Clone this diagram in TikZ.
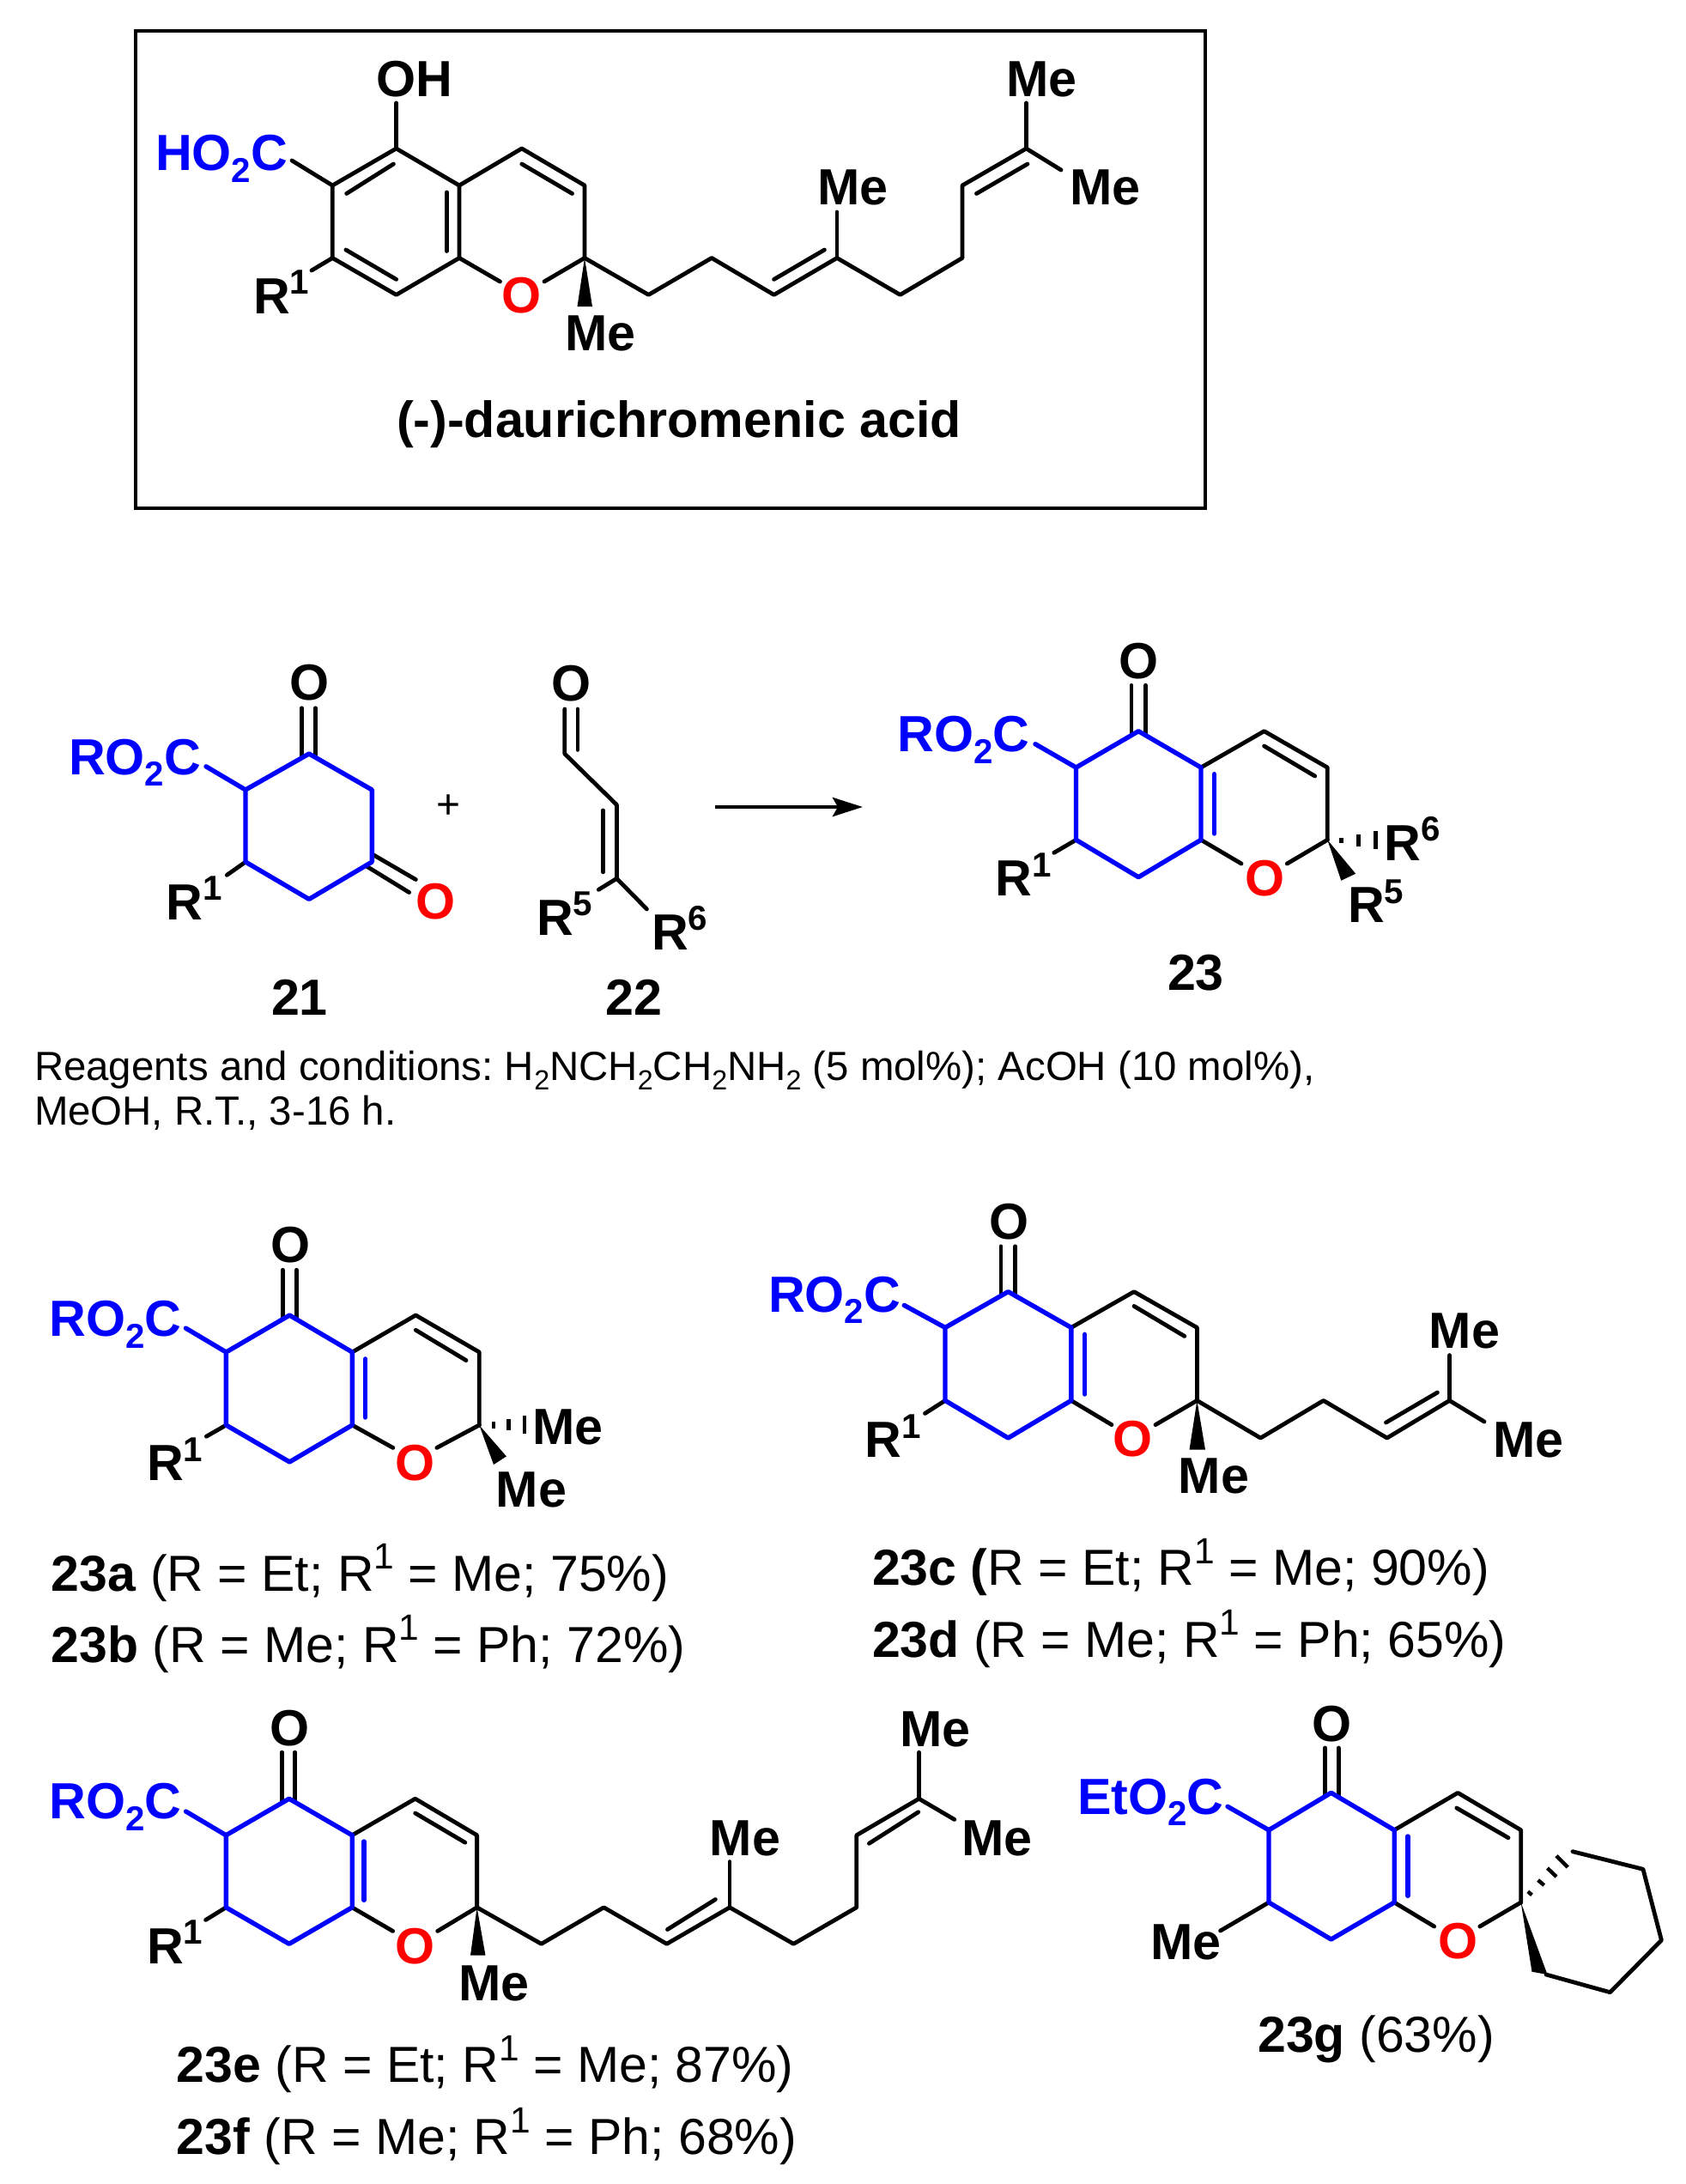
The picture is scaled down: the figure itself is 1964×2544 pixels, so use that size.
\documentclass[tikz,border=0pt]{standalone}
\usepackage{fontspec}
\usepackage{graphicx}
\setmainfont{Liberation Sans}
\usetikzlibrary{arrows.meta}
\definecolor{cblue}{RGB}{0,0,255}
\definecolor{cred}{RGB}{255,0,0}
\newcommand{\lsub}[1]{\raisebox{-.23em}{\scalebox{.68}{#1}}}
\newcommand{\lsup}[1]{\raisebox{.38em}{\scalebox{.68}{#1}}}
\newcommand{\csup}[1]{\raisebox{.43em}{\scalebox{.72}{#1}}}
\newcommand{\labfont}{\fontsize{29.6}{32}\selectfont\bfseries}
\newcommand{\capfont}{\fontsize{29.5}{32}\selectfont}
\newcommand{\smfont}{\fontsize{23.7}{26}\selectfont\frenchspacing}
\tikzset{
 blk/.style={line width=2.4pt,black,line cap=round,line join=round},
 blu/.style={line width=2.7pt,cblue,line cap=round,line join=round},
 lab/.style={inner sep=0pt,outer sep=0pt,anchor=base west,font=\labfont,xshift=-1pt,yshift=-0.7pt},
 capt/.style={inner sep=0pt,outer sep=0pt,anchor=base west,font=\capfont,yshift=-0.7pt},
 small/.style={inner sep=0pt,outer sep=0pt,anchor=base west,font=\smfont,yshift=-0.7pt},
 bluelab/.style={lab,text=cblue},
 redlab/.style={lab,text=cred},
 wedge/.style={fill=black,draw=none},
 hashb/.style={line width=2.2pt,black},
}
% shared bonds of the cyclohexenone-pyran core, from named atoms
\newcommand{\corebonds}[1]{
 \path (#1co) ++(0,3) coordinate (#1cy);
 \draw[blk] (#1oa) -- (#1oa |- #1cy);
 \draw[blk] (#1ob) -- (#1ob |- #1cy);
 \draw[blk] (#1cr) -- (#1rb);
 \draw[blk] (#1cf) -- (#1cd) -- (#1cc) -- (#1ct);
 \draw[blk] (#1jA) -- (#1jB);
 \draw[blk] (#1ce) -- (#1oA);
 \draw[blk] (#1ct) -- (#1oB);
 \draw[blu] (#1ca) -- (#1es);
 \draw[blu] (#1cf) -- (#1co) -- (#1ca) -- (#1cr) -- (#1ch) -- (#1ce) -- (#1cf);
 \draw[blu] (#1iA) -- (#1iB);
}
\begin{document}
\begin{tikzpicture}[x=0.5pt,y=-0.5pt]
\useasboundingbox (0,0) rectangle (1964,2544);
\fill[white] (0,0) rectangle (1964,2544);

%% ---------- (-)-daurichromenic acid ----------
\coordinate (fa) at (158,36);
\coordinate (fb) at (1404,592);
\draw[line width=1.8pt,black] (fa) rectangle (fb);
\coordinate (a1) at (461.6,173);
\coordinate (a2) at (387.3,216);
\coordinate (a3) at (387.3,300.5);
\coordinate (a4) at (461.6,343.4);
\coordinate (a5) at (535,300.5);
\coordinate (a6) at (535,216);
\coordinate (a7) at (607.8,173);
\coordinate (a8) at (681,216);
\coordinate (a9) at (681,300.5);
\coordinate (a10) at (755.5,343.4);
\coordinate (a11) at (829,300.5);
\coordinate (a12) at (901.6,343.4);
\coordinate (a13) at (975,300.5);
\coordinate (a14) at (1048.6,343.4);
\coordinate (a15) at (1121,300.5);
\coordinate (a16) at (1121,216);
\coordinate (a17) at (1195.5,173);
\coordinate (aoh) at (461.6,120);
\coordinate (aes) at (340,187);
\coordinate (arb) at (363,315);
\coordinate (aoA) at (582.5,328);
\coordinate (aoB) at (634,328);
\coordinate (ame1) at (975,247);
\coordinate (ame2) at (1195.5,120);
\coordinate (ame3) at (1236,198);
\coordinate (aw1) at (672.5,357);
\coordinate (aw2) at (690,357);
\draw[blk] (a1) -- (a2) -- (a3) -- (a4) -- (a5) -- (a6) -- (a1);
\draw[blk] (a6) -- (a7) -- (a8) -- (a9);
\draw[blk] (a5) -- (aoA);
\draw[blk] (a9) -- (aoB);
\draw[blk] (a9) -- (a10) -- (a11) -- (a12) -- (a13) -- (a14) -- (a15) -- (a16) -- (a17);
\draw[blk] (a1) -- (aoh);
\draw[blk] (a2) -- (aes);
\draw[blk] (a3) -- (arb);
\draw[blk] (a13) -- (ame1);
\draw[blk] (a17) -- (ame2);
\draw[blk] (a17) -- (ame3);
\coordinate (ai1) at (458.4,191); \coordinate (ai2) at (403.7,225.5);
\coordinate (ai3) at (520.4,224); \coordinate (ai4) at (520.4,292.5);
\coordinate (ai5) at (402.9,291); \coordinate (ai6) at (461.6,325.4);
\coordinate (ai7) at (607.8,191); \coordinate (ai8) at (666.5,225.5);
\coordinate (ai9) at (960.4,291); \coordinate (ai10) at (901.6,325.4);
\coordinate (ai11) at (1197,191); \coordinate (ai12) at (1137.5,225.5);
\draw[blk] (ai1) -- (ai2);
\draw[blk] (ai3) -- (ai4);
\draw[blk] (ai5) -- (ai6);
\draw[blk] (ai7) -- (ai8);
\draw[blk] (ai9) -- (ai10);
\draw[blk] (ai11) -- (ai12);
\fill[wedge] (a9) -- (aw1) -- (aw2) -- cycle;
\node[lab] (aOH) at (440.4,111) {OH};
\node[bluelab] (aHO) at (183,197) {HO\lsub{2}C};
\node[lab] (aR) at (297,363.7) {R\lsup{1}};
\node[redlab] (aO) at (586,363.4) {O};
\node[lab] (aMe1) at (660,407) {Me};
\node[lab] (aMe2) at (954,237) {Me};
\node[lab] (aMe3) at (1174,111) {Me};
\node[lab] (aMe4) at (1248,237) {Me};
\node[lab] (aname) at (464,508) {(-)-daurichromenic acid};

%% ---------- 21 ----------
\coordinate (b1) at (360,878);
\coordinate (b2) at (433.3,920);
\coordinate (b3) at (433.3,1004);
\coordinate (b4) at (360,1047.4);
\coordinate (b5) at (286,1004);
\coordinate (b6) at (286,920);
\coordinate (bes) at (240,892.8);
\coordinate (brb) at (264.3,1019.3);
\coordinate (boa) at (351.6,824.8); \coordinate (bob) at (367.6,824.8);
\coordinate (bla) at (351.6,882); \coordinate (blb) at (367.6,882);
\coordinate (bc1) at (433.3,994.8); \coordinate (bc2) at (484.3,1024.5);
\coordinate (bc3) at (426.3,1008.6); \coordinate (bc4) at (476.6,1039.5);
\draw[blk] (boa) -- (bla);
\draw[blk] (bob) -- (blb);
\draw[blk] (bc1) -- (bc2);
\draw[blk] (bc3) -- (bc4);
\draw[blk] (b5) -- (brb);
\draw[blu] (b6) -- (bes);
\draw[blu] (b1) -- (b2) -- (b3) -- (b4) -- (b5) -- (b6) -- cycle;
\node[lab] (bO1) at (339,814.5) {O};
\node[redlab] (bO2) at (486,1069) {O};
\node[bluelab] (bRO) at (82,900.7) {RO\lsub{2}C};
\node[lab] (bR) at (195.4,1070) {R\lsup{1}};
\node[lab] (b21) at (318,1180.6) {21};
\node[inner sep=0pt,font=\fontsize{24}{24}\selectfont] (plus) at (523,940) {+};

%% ---------- 22 ----------
\coordinate (c1) at (657.8,878);
\coordinate (c2) at (718.4,937.5);
\coordinate (c3) at (718.4,1023.3);
\coordinate (coa) at (657.8,826);
\coordinate (cob) at (673,826);
\coordinate (coc) at (673,873.4);
\coordinate (ci1) at (702.4,944);
\coordinate (ci2) at (702.4,1015.8);
\coordinate (cr5) at (697.3,1036.3);
\coordinate (cr6) at (753.4,1058.9);
\draw[blk] (coa) -- (c1) -- (c2) -- (c3);
\draw[blk] (cob) -- (coc);
\draw[blk] (ci1) -- (ci2);
\draw[blk] (c3) -- (cr5);
\draw[blk] (c3) -- (cr6);
\node[lab] (cO) at (644,814.6) {O};
\node[lab] (cR5) at (627,1087.7) {R\lsup{5}};
\node[lab] (cR6) at (761,1104.7) {R\lsup{6}};
\node[lab] (c22) at (707.5,1180.6) {22};

%% ---------- arrow ----------
\coordinate (arA) at (833,940);
\coordinate (arB) at (1005,940);
\draw[line width=2.4pt,black,-{Stealth[length=17.5pt,width=11pt,inset=3pt]}] (arA) -- (arB);

%% ---------- conditions ----------
\node[small] (cond1) at (40,1257) {Reagents and conditions: H\lsub{2}NCH\lsub{2}CH\lsub{2}NH\lsub{2} (5 mol\%); AcOH (10 mol\%),};
\node[small] (cond2) at (40,1309) {MeOH, R.T., 3-16 h.};

%% ---------- 23 ----------
\coordinate (Pco) at (1326.2,851.7);
\coordinate (Pca) at (1253.5,894);
\coordinate (Pcr) at (1253.5,978.3);
\coordinate (Pch) at (1326.2,1021.7);
\coordinate (Pce) at (1399,978.3);
\coordinate (Pcf) at (1399,894);
\coordinate (Pcd) at (1472.6,851.7);
\coordinate (Pcc) at (1546.3,894);
\coordinate (Pct) at (1546.3,978.3);
\coordinate (Poa) at (1318,798.3);
\coordinate (Pob) at (1334.5,798.3);
\coordinate (Pes) at (1206,866.7);
\coordinate (Prb) at (1227.8,993.3);
\coordinate (PiA) at (1414.5,901.7);
\coordinate (PiB) at (1414.5,971);
\coordinate (PjA) at (1472.6,869);
\coordinate (PjB) at (1531.7,904);
\coordinate (PoA) at (1446,1006);
\coordinate (PoB) at (1499.3,1006);
\corebonds{P}
\coordinate (Pw1) at (1562.3,1025.7);
\coordinate (Pw2) at (1579.2,1017.7);
\fill[wedge] (Pct) -- (Pw1) -- (Pw2) -- cycle;
\coordinate (Ph1) at (1562.3,975.7); \coordinate (Ph2) at (1562.3,981.7);
\coordinate (Ph3) at (1582.6,972.3); \coordinate (Ph4) at (1582.6,985.7);
\coordinate (Ph5) at (1602.5,968.3); \coordinate (Ph6) at (1602.5,989.3);
\draw[hashb] (Ph1) -- (Ph2);
\draw[hashb] (Ph3) -- (Ph4);
\draw[hashb] (Ph5) -- (Ph6);
\node[lab] (PO1) at (1305,789) {O};
\node[redlab] (PO2) at (1452,1042.3) {O};
\node[bluelab] (PRO) at (1047.5,874.3) {RO\lsub{2}C};
\node[lab] (PR1) at (1161.4,1042.3) {R\lsup{1}};
\node[lab] (PR6) at (1614.6,1000.7) {R\lsup{6}};
\node[lab] (PR5) at (1572,1073.3) {R\lsup{5}};
\node[lab] (P23) at (1362,1151.7) {23};

%% ---------- 23a/b ----------
\coordinate (Qco) at (337.3,1532);
\coordinate (Qca) at (263.4,1575);
\coordinate (Qcr) at (263.4,1660);
\coordinate (Qch) at (337.3,1702.9);
\coordinate (Qce) at (410.3,1660);
\coordinate (Qcf) at (410.3,1575);
\coordinate (Qcd) at (484.3,1532);
\coordinate (Qcc) at (558.3,1575);
\coordinate (Qct) at (558.3,1660);
\coordinate (Qoa) at (329.2,1479.3);
\coordinate (Qob) at (345.5,1479.3);
\coordinate (Qes) at (216.4,1547.1);
\coordinate (Qrb) at (240.4,1673.2);
\coordinate (QiA) at (425.6,1582.9);
\coordinate (QiB) at (425.6,1651);
\coordinate (QjA) at (484.3,1549.3);
\coordinate (QjB) at (543,1584.6);
\coordinate (QoA) at (457.8,1686.4);
\coordinate (QoB) at (508.8,1686.4);
\corebonds{Q}
\coordinate (Qw1) at (575,1706);
\coordinate (Qw2) at (589.9,1696.4);
\fill[wedge] (Qct) -- (Qw1) -- (Qw2) -- cycle;
\coordinate (Qh1) at (575,1656.4); \coordinate (Qh2) at (575,1663.6);
\coordinate (Qh3) at (592.4,1652.9); \coordinate (Qh4) at (592.4,1666);
\coordinate (Qh5) at (610.8,1649); \coordinate (Qh6) at (610.8,1669.6);
\draw[hashb] (Qh1) -- (Qh2);
\draw[hashb] (Qh3) -- (Qh4);
\draw[hashb] (Qh5) -- (Qh6);
\node[lab] (QO1) at (317,1469.5) {O};
\node[redlab] (QO2) at (462,1723.3) {O};
\node[bluelab] (QRO) at (59.8,1555.4) {RO\lsub{2}C};
\node[lab] (QR1) at (173,1723.2) {R\lsup{1}};
\node[lab] (QMe1) at (622,1681.4) {Me};
\node[lab] (QMe2) at (579.7,1754.3) {Me};
\node[capt] (Qa) at (59.8,1851.8) {\textbf{23a} (R = Et; R\csup{1} = Me; 75\%)};
\node[capt] (Qb) at (59.8,1934.6) {\textbf{23b} (R = Me; R\csup{1} = Ph; 72\%)};

%% ---------- 23c/d ----------
\coordinate (Rco) at (1174.4,1504.6);
\coordinate (Rca) at (1101,1546.4);
\coordinate (Rcr) at (1101,1631.4);
\coordinate (Rch) at (1174.4,1675);
\coordinate (Rce) at (1247.8,1631.4);
\coordinate (Rcf) at (1247.8,1546.4);
\coordinate (Rcd) at (1321,1504.6);
\coordinate (Rcc) at (1394.4,1546.4);
\coordinate (Rct) at (1394.4,1631.4);
\coordinate (Roa) at (1166,1451.8);
\coordinate (Rob) at (1182.7,1451.8);
\coordinate (Res) at (1053.2,1520.4);
\coordinate (Rrb) at (1077.5,1646.4);
\coordinate (RiA) at (1263.7,1554.3);
\coordinate (RiB) at (1263.7,1624);
\coordinate (RjA) at (1321,1521.4);
\coordinate (RjB) at (1379.8,1556.4);
\coordinate (RoA) at (1295,1659.6);
\coordinate (RoB) at (1346,1659.6);
\corebonds{R}
\coordinate (Rw1) at (1385.5,1688.6);
\coordinate (Rw2) at (1404,1688.6);
\fill[wedge] (Rct) -- (Rw1) -- (Rw2) -- cycle;
\coordinate (R1c) at (1468.4,1675);
\coordinate (R2c) at (1541.7,1631.4);
\coordinate (R3c) at (1615.7,1675);
\coordinate (R4c) at (1688.5,1631.4);
\coordinate (R5c) at (1674.4,1622);
\coordinate (R6c) at (1614.5,1657);
\coordinate (Rme1) at (1688.5,1578.6);
\coordinate (Rme2) at (1729,1656);
\draw[blk] (Rct) -- (R1c) -- (R2c) -- (R3c) -- (R4c) -- (Rme1);
\draw[blk] (R4c) -- (Rme2);
\draw[blk] (R5c) -- (R6c);
\node[lab] (RO1) at (1154.6,1442) {O};
\node[redlab] (RO2) at (1298.5,1695.4) {O};
\node[bluelab] (RRO) at (897,1526.8) {RO\lsub{2}C};
\node[lab] (RR1) at (1009.9,1696.4) {R\lsup{1}};
\node[lab] (RMe1) at (1666.8,1569) {Me};
\node[lab] (RMe2) at (1741.4,1696.4) {Me};
\node[lab] (RMe3) at (1374.7,1738.2) {Me};
\node[capt] (Rc) at (1016,1845.4) {\textbf{23c (}R = Et; R\csup{1} = Me; 90\%)};
\node[capt] (Rd) at (1016,1928.6) {\textbf{23d} (R = Me; R\csup{1} = Ph; 65\%)};

%% ---------- 23e/f ----------
\coordinate (Sco) at (336.8,2095.2);
\coordinate (Sca) at (263.3,2137.7);
\coordinate (Scr) at (263.3,2221.8);
\coordinate (Sch) at (336.8,2264.3);
\coordinate (Sce) at (410.2,2221.8);
\coordinate (Scf) at (410.2,2137.7);
\coordinate (Scd) at (483.7,2095.2);
\coordinate (Scc) at (555.6,2137.7);
\coordinate (Sct) at (555.6,2221.8);
\coordinate (Soa) at (328.3,2041.2);
\coordinate (Sob) at (343.6,2041.2);
\coordinate (Ses) at (216.6,2110);
\coordinate (Srb) at (239.6,2236.4);
\coordinate (SiA) at (424,2145);
\coordinate (SiB) at (424,2213.3);
\coordinate (SjA) at (483.7,2112);
\coordinate (SjB) at (541.8,2146.2);
\coordinate (SoA) at (457.6,2249.4);
\coordinate (SoB) at (509.7,2249.4);
\corebonds{S}
\coordinate (Sw1) at (548,2277.7);
\coordinate (Sw2) at (565.5,2277.7);
\fill[wedge] (Sct) -- (Sw1) -- (Sw2) -- cycle;
\coordinate (S1c) at (630.6,2264.3);
\coordinate (S2c) at (703.3,2221.8);
\coordinate (S3c) at (776.7,2264.3);
\coordinate (S4c) at (850,2221.8);
\coordinate (S5c) at (924.4,2264.3);
\coordinate (S6c) at (997.8,2221.8);
\coordinate (S7c) at (997.8,2137.7);
\coordinate (S8c) at (1070.5,2095.2);
\coordinate (Si1) at (833.4,2212.5); \coordinate (Si2) at (777.5,2247.5);
\coordinate (Si3) at (1069.7,2110.8); \coordinate (Si4) at (1012.4,2147.3);
\coordinate (Sme1) at (850,2168.6);
\coordinate (Sme2) at (1070.5,2041.2);
\coordinate (Sme3) at (1111.8,2119.4);
\draw[blk] (Sct) -- (S1c) -- (S2c) -- (S3c) -- (S4c) -- (S5c) -- (S6c) -- (S7c) -- (S8c) -- (Sme2);
\draw[blk] (S4c) -- (Sme1);
\draw[blk] (S8c) -- (Sme3);
\draw[blk] (Si1) -- (Si2);
\draw[blk] (Si3) -- (Si4);
\node[lab] (SO1) at (316.9,2032.5) {O};
\node[redlab] (SO2) at (462,2285.6) {O};
\node[bluelab] (SRO) at (59.8,2117.5) {RO\lsub{2}C};
\node[lab] (SR1) at (173,2285.9) {R\lsup{1}};
\node[lab] (SMe1) at (828.7,2160) {Me};
\node[lab] (SMe2) at (1050.6,2032.6) {Me};
\node[lab] (SMe3) at (1122.6,2160) {Me};
\node[lab] (SMe4) at (536.4,2328.7) {Me};
\node[capt] (Se) at (205.9,2424.4) {\textbf{23e} (R = Et; R\csup{1} = Me; 87\%)};
\node[capt] (Sf) at (205.9,2508.2) {\textbf{23f} (R = Me; R\csup{1} = Ph; 68\%)};

%% ---------- 23g ----------
\coordinate (Tco) at (1550.6,2088.3);
\coordinate (Tca) at (1478,2131.7);
\coordinate (Tcr) at (1478,2216);
\coordinate (Tch) at (1550.6,2259);
\coordinate (Tce) at (1624.2,2216);
\coordinate (Tcf) at (1624.2,2131.7);
\coordinate (Tcd) at (1698.2,2088.3);
\coordinate (Tcc) at (1771.7,2131.7);
\coordinate (Tct) at (1771.7,2216);
\coordinate (Toa) at (1543.5,2036);
\coordinate (Tob) at (1559.2,2036);
\coordinate (Tes) at (1430,2104.3);
\coordinate (Trb) at (1421.6,2249);
\coordinate (TiA) at (1639.8,2139);
\coordinate (TiB) at (1639.8,2208.3);
\coordinate (TjA) at (1696.8,2106);
\coordinate (TjB) at (1757,2140.7);
\coordinate (ToA) at (1670.7,2244);
\coordinate (ToB) at (1723.8,2244);
\corebonds{T}
\coordinate (Tw1) at (1784.5,2296.7);
\coordinate (Tw2) at (1802.5,2300);
\fill[wedge] (Tct) -- (Tw1) -- (Tw2) -- cycle;
\coordinate (T1c) at (1801,2300);
\coordinate (T2c) at (1875.6,2320.7);
\coordinate (T3c) at (1935.4,2260);
\coordinate (T4c) at (1914,2177.3);
\coordinate (T5c) at (1832,2156.7);
\draw[blk] (T1c) -- (T2c) -- (T3c) -- (T4c) -- (T5c);
\coordinate (Th1) at (1779.8,2203.3); \coordinate (Th2) at (1784.5,2207.3);
\coordinate (Th3) at (1791.6,2190); \coordinate (Th4) at (1798.7,2196);
\coordinate (Th5) at (1802.5,2176); \coordinate (Th6) at (1813,2186);
\coordinate (Th7) at (1813,2161.7); \coordinate (Th8) at (1826.2,2175);
\draw[hashb] (Th1) -- (Th2);
\draw[hashb] (Th3) -- (Th4);
\draw[hashb] (Th5) -- (Th6);
\draw[hashb] (Th7) -- (Th8);
\node[lab] (TO1) at (1530,2026.7) {O};
\node[redlab] (TO2) at (1677,2279.7) {O};
\node[bluelab] (TEt) at (1257,2111.7) {EtO\lsub{2}C};
\node[lab] (TMe) at (1342.4,2280.7) {Me};
\node[capt] (Tg) at (1465.3,2389) {\textbf{23g} (63\%)};
\end{tikzpicture}
\end{document}
